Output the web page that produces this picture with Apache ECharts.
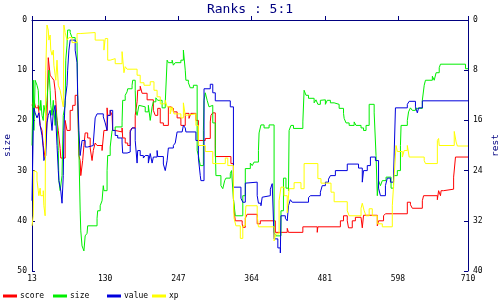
<!DOCTYPE html>
<html>
<head>
<meta charset="utf-8">
<script src="https://cdn.jsdelivr.net/npm/echarts@6/dist/echarts.min.js"></script>
<style>
html,body{margin:0;padding:0;background:#fff;}
#chart{width:500px;height:300px;}
</style>
</head>
<body>
<div id="chart"></div>
<script>
var seriesNames = ['score', 'size', 'value', 'xp'];
var xTicks = [13, 130, 247, 364, 481, 598, 710];
var leftTicks = [0, 10, 20, 30, 40, 50];
var rightTicks = [0, 8, 16, 24, 32, 40];

var scoreData = [[13,17],[16,16],[19,17.5],[23,17],[26,21],[29,22],[31,25],[34,27.5],[37,20],[39,7.5],[42,11],[45,11.5],[48,12],[50,14],[51,16],[53,20],[55,22],[58,25.6],[59,27.5],[66,20],[69,22],[74,18],[78,17],[82,15],[86,16],[88,27],[90,28],[91,31],[94,28],[96,25],[98,22.5],[102,23.5],[106,25.5],[109,28],[111,26],[114,24.5],[117,25],[125,26],[128,22],[133,17.5],[134,19],[138,18],[141,19],[142,22],[146,22.3],[157,21.5],[158,23.5],[162,24.5],[166,25],[170,22],[173,21.5],[178,19],[181,16.3],[182,14],[186,13.2],[189,14.6],[197,15.9],[207,18],[210,19],[214,17.6],[218,20.5],[223,21],[231,17.3],[235,17.6],[239,18.3],[245,19.5],[251,21],[258,18.6],[264,19.6],[267,18.6],[275,20],[279,24],[290,23.6],[298,20.3],[299,19],[302,18.5],[306,27.2],[331,28.6],[335,35.5],[336,38],[338,40],[349,40.6],[350,41.3],[354,39.5],[357,38.7],[373,40.6],[378,40],[402,42.3],[421,41.5],[423,42.3],[446,41.2],[469,42.3],[470,41.2],[506,40],[511,39],[517,40],[519,41.4],[525,40],[530,39.3],[539,39],[541,41.4],[543,38.9],[565,41],[567,40],[575,39],[578,38.6],[613,36.3],[618,36.8],[621,37.5],[637,36],[639,35],[661,35.8],[663,34],[666,35],[667,34],[671,33.7],[687,31.3],[690,27.3],[710,27.3]];

var sizeData = [[13,25],[15,12],[16,22],[18,12],[21,13],[23,14],[24,17],[26,18],[27,16],[29,19],[31,20],[32,17],[35,19],[37,16],[39,12],[40,10],[42,14],[43,17],[45,19],[47,16],[50,21],[51,18],[53,20],[55,26],[56,32],[58,34],[61,31],[63,19],[66,17],[67,8],[69,5],[70,2],[74,2.5],[77,3.5],[82,4],[85,4.5],[86,15],[88,26],[90,38],[91,42],[93,45],[96,46],[98,43],[101,42.5],[102,41],[117,39.5],[118,38],[122,37],[125,36],[127,33],[128,34],[133,30],[134,27],[138,25.3],[141,22],[146,21.3],[157,20.3],[158,16],[162,15],[165,14.3],[166,13.7],[173,13],[174,12],[178,14],[179,18],[181,19],[184,17],[187,17.3],[194,18.3],[199,17],[202,20],[205,17.3],[207,16.3],[211,15.5],[214,16],[221,17.5],[226,16.5],[229,8],[231,8.5],[237,8],[239,9],[242,8.5],[251,8],[255,6],[258,10],[259,12],[263,12.5],[266,13.5],[271,13],[277,26],[279,27],[282,29],[287,22],[288,16],[290,14.5],[293,16],[296,17.3],[299,17],[302,20.5],[306,25],[307,31],[315,33],[318,33.6],[321,32],[323,31.5],[330,30.6],[332,30],[335,35.6],[338,39],[350,35],[354,29.6],[362,28.5],[365,29],[368,28.3],[375,26],[376,22.5],[379,20.9],[384,21.5],[392,20.9],[400,42.3],[403,43],[411,38],[415,31.5],[419,33.5],[423,34],[424,22],[427,21],[431,21.6],[446,20.3],[448,14],[451,15],[455,15.6],[464,16.5],[467,15.9],[470,16.8],[474,16],[477,15.9],[482,16.8],[485,16],[490,16.5],[496,16.8],[504,17.6],[511,18.6],[512,19.6],[515,20.5],[520,21],[528,20.3],[531,21],[539,21.5],[543,22],[547,21],[552,16.8],[560,18.5],[563,27],[565,35],[567,32],[570,33],[573,32],[579,31.3],[587,33.5],[591,31],[597,30],[602,25],[603,21],[613,20],[615,18.3],[618,17.5],[621,18],[626,17.6],[637,16],[640,13],[642,12],[653,11.2],[656,12],[659,10.5],[664,9.5],[666,8.8],[706,9.7],[710,9.7]];

var valueData = [[13,36],[15,22],[16,17.5],[18,18.5],[21,19.5],[24,18.5],[26,21],[29,23],[31,25.5],[32,28],[35,27],[37,20.5],[39,19],[42,18],[45,22],[47,18.5],[50,17],[53,25],[55,30],[56,32],[59,34],[61,36.5],[63,31],[64,22],[66,16],[69,13],[70,10],[72,6],[74,4],[78,4],[82,6],[85,8.5],[86,15],[88,22],[90,27],[93,24],[98,25.3],[102,25],[111,24.5],[114,19.5],[117,18.7],[127,19.3],[130,20.5],[133,22],[134,19],[138,18],[142,22],[146,23],[150,23.5],[157,24.5],[158,26.5],[165,26.3],[170,22.3],[173,21.5],[178,24],[181,28.5],[182,26],[186,27],[191,27.5],[194,27],[199,28.5],[202,26.6],[205,28.5],[207,27.3],[213,26],[214,27.2],[223,28.7],[226,30],[229,28],[231,25.5],[239,25],[242,24.5],[245,22.3],[253,22],[255,21],[258,21.5],[259,22.3],[275,24],[279,27.5],[282,31],[283,32],[288,13.7],[298,12.8],[302,14.5],[306,16.1],[330,17.3],[335,33.3],[347,35.5],[350,36.3],[354,32.5],[357,32.3],[373,35],[375,36.5],[379,37],[381,35.3],[383,35],[394,33.7],[397,32.6],[400,43.6],[406,45.4],[410,46.4],[411,39],[418,39.5],[421,40],[423,37],[426,35.8],[429,36.3],[455,35.4],[458,35],[474,34.3],[477,33],[482,32.3],[487,31.7],[490,31],[498,30],[517,28.7],[535,29.5],[541,32.3],[543,30],[549,29],[554,27.3],[562,28],[567,33.5],[570,35],[578,33],[581,31.5],[586,32.3],[591,31],[594,17.5],[613,16.8],[616,16.2],[626,17.3],[629,18.5],[631,17.5],[637,16.1],[710,16.1]];

var xpData = [[13,41],[15,39],[16,30],[18,30.3],[21,32],[23,34],[24,35],[26,33.5],[27,35],[31,34],[32,37],[34,39],[35,10],[37,1],[39,2],[40,4],[42,3],[43,6],[45,7],[47,6],[48,9],[50,11],[51,12],[53,8],[55,13],[58,14],[61,16],[63,17.3],[64,1],[66,2.5],[69,4],[72,3.5],[77,4.5],[85,2.7],[90,2.5],[114,4],[128,6],[130,3.7],[134,8],[138,7.7],[146,8.7],[157,6.3],[160,10.5],[162,9.3],[165,9.8],[181,11],[186,12.5],[192,13],[202,12.3],[208,14],[213,15.3],[218,16.7],[226,16],[229,17.3],[234,18.7],[237,17.3],[240,18.7],[251,19.5],[255,16.5],[258,19],[261,18.7],[275,21],[279,25],[290,26.2],[302,28.6],[322,27.5],[326,29],[335,36],[336,39.5],[339,41],[346,43.5],[350,41],[354,39],[355,37],[373,39],[375,41.2],[400,44],[403,42.6],[408,36],[411,33.3],[416,35],[421,38.4],[424,33.6],[432,32.4],[443,33.6],[448,28.6],[470,31.6],[475,32.5],[491,34.3],[496,36.2],[517,38],[520,39],[539,37.5],[541,36.5],[544,38],[547,39],[552,37.6],[557,39],[565,40.6],[573,41.2],[589,37],[592,31],[595,25],[597,26.2],[605,27.3],[608,26],[613,25],[616,27.3],[640,28],[642,28.6],[661,24],[663,23.6],[664,25],[688,22.2],[691,24.3],[693,25.1],[710,25.1]];

var allData = [scoreData, sizeData, valueData, xpData];
var colors = ['#ff0000', '#00ee00', '#0000dd', '#ffff00'];
var FONT = 'DejaVu Sans Mono';
var NAVY = '#000080';
var legendLeft = [3, 53, 107, 152];

var chart = echarts.init(document.getElementById('chart'), null, {renderer: 'canvas'});
chart.setOption({
  animation: false,
  backgroundColor: '#ffffff',
  title: {
    text: 'Ranks : 5:1',
    left: 'center',
    top: -2,
    textStyle: {fontFamily: FONT, fontSize: 13, fontWeight: 'normal', color: NAVY}
  },
  legend: seriesNames.map(function (n, i) {
    return {
      data: [n], left: legendLeft[i], top: 292, padding: 0,
      icon: 'rect', itemWidth: 14, itemHeight: 3, itemGap: 0,
      selectedMode: false,
      textStyle: {fontFamily: FONT, fontSize: 8, color: '#000', padding: [0, 0, 0, -2]}
    };
  }),
  grid: {left: 32, right: 32, top: 20, bottom: 29, containLabel: false, outerBoundsMode: 'none'},
  xAxis: {
    type: 'value', min: xTicks[0], max: xTicks[xTicks.length - 1],
    axisLine: {show: true, lineStyle: {color: NAVY, width: 1}},
    axisTick: {show: true, inside: true, length: 4, customValues: xTicks, lineStyle: {color: NAVY}},
    axisLabel: {customValues: xTicks, fontFamily: FONT, fontSize: 8, color: '#000', margin: 4},
    splitLine: {show: false}
  },
  yAxis: [{
    type: 'value', min: leftTicks[0], max: leftTicks[leftTicks.length - 1], interval: 10, inverse: true,
    position: 'left',
    name: 'size', nameLocation: 'middle', nameGap: 19, nameRotate: 90, nameMoveOverlap: false,
    nameTextStyle: {fontFamily: FONT, fontSize: 9.5, color: NAVY},
    axisLine: {show: true, lineStyle: {color: NAVY, width: 1}},
    axisTick: {show: true, inside: true, length: 3, lineStyle: {color: NAVY}},
    axisLabel: {fontFamily: FONT, fontSize: 8, color: '#000', margin: 5},
    splitLine: {show: false}
  }, {
    type: 'value', min: rightTicks[0], max: rightTicks[rightTicks.length - 1], interval: 8, inverse: true,
    position: 'right',
    name: 'rest', nameLocation: 'middle', nameGap: 23, nameRotate: 90, nameMoveOverlap: false,
    nameTextStyle: {fontFamily: FONT, fontSize: 9.5, color: NAVY},
    axisLine: {show: true, lineStyle: {color: NAVY, width: 1}},
    axisTick: {show: true, inside: true, length: 4, lineStyle: {color: NAVY}},
    axisLabel: {fontFamily: FONT, fontSize: 8, color: '#000', margin: 5},
    splitLine: {show: false}
  }],
  series: seriesNames.map(function (n, i) {
    return {
      name: n, type: 'line', step: 'end', yAxisIndex: 0,
      data: allData[i], showSymbol: false, symbol: 'none',
      color: colors[i],
      lineStyle: {width: 1, color: colors[i]},
      emphasis: {disabled: true}
    };
  })
});
</script>
</body>
</html>
